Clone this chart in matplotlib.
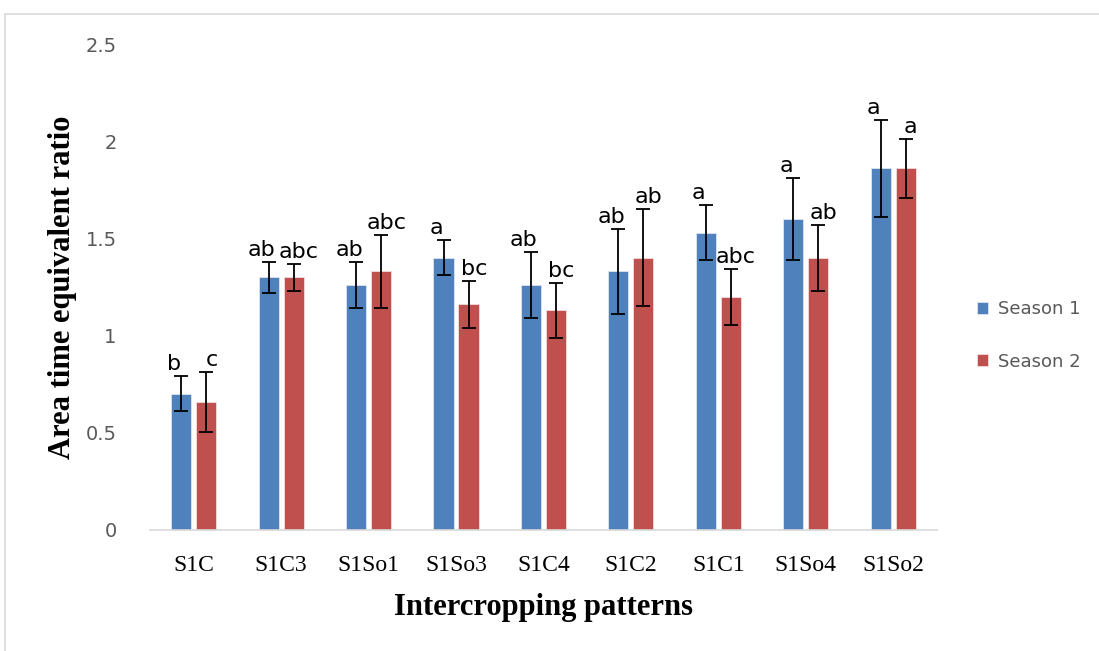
import numpy as np
import matplotlib.pyplot as plt
from matplotlib.patches import Rectangle

# Данные: паттерны и значения по сезонам
patterns = ['S1C', 'S1C3', 'S1So1', 'S1So3', 'S1C4', 'S1C2', 'S1C1', 'S1So4', 'S1So2']
season1 = [0.70, 1.30, 1.26, 1.40, 1.26, 1.33, 1.53, 1.60, 1.86]
season2 = [0.66, 1.30, 1.33, 1.16, 1.13, 1.40, 1.20, 1.40, 1.86]
err1 = [0.09, 0.08, 0.12, 0.09, 0.17, 0.22, 0.14, 0.21, 0.25]
err2 = [0.155, 0.07, 0.19, 0.12, 0.14, 0.25, 0.145, 0.17, 0.15]
letters1 = ['b', 'ab', 'ab', 'a', 'ab', 'ab', 'a', 'a', 'a']
letters2 = ['c', 'abc', 'abc', 'bc', 'bc', 'ab', 'abc', 'ab', 'a']

blue = '#4f81bd'
red = '#c0504d'

fig = plt.figure(figsize=(10.99, 6.51), dpi=100)
ax = fig.add_axes([0.1365, 0.1859, 0.716, 0.7465])

# Рамка области диаграммы
fig.patches.append(Rectangle((5 / 1099, -0.1), 1.2, (651 - 14) / 651 + 0.1,
                             transform=fig.transFigure, fill=False,
                             edgecolor='#d9d9d9', linewidth=1.2))

x = np.arange(len(patterns))
w = 0.23
off = 0.143
ekw = dict(ecolor='black', elinewidth=1.3, capsize=5, capthick=1.3)
ax.bar(x - off, season1, w, color=blue, edgecolor='#dfe6f0', linewidth=0.6,
       yerr=err1, error_kw=ekw, label='Season 1')
ax.bar(x + off, season2, w, color=red, edgecolor='#f0dcdc', linewidth=0.6,
       yerr=err2, error_kw=ekw, label='Season 2')

# Буквы значимости
for i in range(len(patterns)):
    ax.text(x[i] - off - 0.08, season1[i] + err1[i] + 0.01, letters1[i], ha='center',
            va='bottom', fontsize=16, family='DejaVu Sans')
    ax.text(x[i] + off + 0.06, season2[i] + err2[i] + 0.01, letters2[i], ha='center',
            va='bottom', fontsize=16, family='DejaVu Sans')

ax.set_xlim(-0.5, len(patterns) - 0.5)
ax.set_ylim(0, 2.5)
ax.set_yticks([0, 0.5, 1, 1.5, 2, 2.5])
ax.set_yticklabels(['0', '0.5', '1', '1.5', '2', '2.5'])
ax.set_xticks(x)
ax.set_xticklabels(patterns, family='Liberation Serif', fontsize=17)
ax.tick_params(axis='y', length=0, pad=24, labelcolor='#595959', labelsize=14)
ax.tick_params(axis='x', length=0, pad=18)

for s in ['top', 'right', 'left']:
    ax.spines[s].set_visible(False)
ax.spines['bottom'].set_color('#d9d9d9')
ax.spines['bottom'].set_linewidth(1.2)

ax.set_xlabel('Intercropping patterns', family='Liberation Serif',
              fontweight='bold', fontsize=22, labelpad=12)
ax.set_ylabel('Area time equivalent ratio', family='Liberation Serif',
              fontweight='bold', fontsize=22, labelpad=6)

leg = ax.legend(loc='center left', bbox_to_anchor=(1.03, 0.40), frameon=False,
                fontsize=13, handlelength=0.65, handleheight=0.65,
                labelspacing=1.9, handletextpad=0.5)
for t in leg.get_texts():
    t.set_color('#595959')

plt.savefig('out.png', dpi=100)
